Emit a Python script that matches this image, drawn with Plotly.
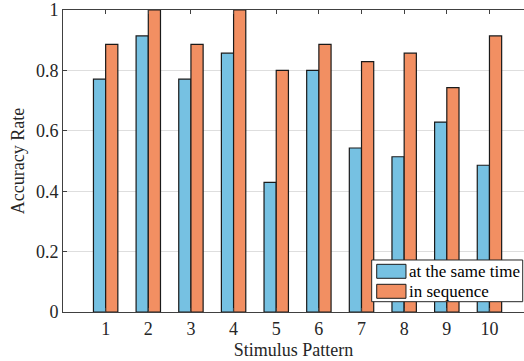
import plotly.graph_objects as go

patterns = [1, 2, 3, 4, 5, 6, 7, 8, 9, 10]
same_time = [0.771, 0.914, 0.771, 0.857, 0.429, 0.800, 0.543, 0.514, 0.629, 0.486]
in_sequence = [0.886, 1.000, 0.886, 1.000, 0.800, 0.886, 0.829, 0.857, 0.743, 0.914]
series_names = ["at the same time", "in sequence"]
series_colors = ["#76C1E2", "#F28F62"]
y_ticks = [0, 0.2, 0.4, 0.6, 0.8, 1]
y_tick_text = ["0", "0.2", "0.4", "0.6", "0.8", "1"]

FONT = "Liberation Serif, Times New Roman, serif"
EDGE = "#1a1a1a"

fig = go.Figure()
for name, vals, col in zip(series_names, [same_time, in_sequence], series_colors):
    fig.add_trace(go.Bar(x=patterns, y=vals, name=name, showlegend=False,
                         marker=dict(color=col, line=dict(color=EDGE, width=1.2))))

# legend box drawn in paper coordinates (MATLAB-style wide patches)
shapes = [dict(type="rect", xref="paper", yref="paper", x0=0.6696, x1=0.9972,
               y0=0.0341, y1=0.1722, fillcolor="white",
               line=dict(color="#262626", width=1), layer="above")]
annotations = []
entry_rows = [(0.1116, 0.1579, 0.1348), (0.0454, 0.0917, 0.0685)]
for (y0, y1, yc), name, col in zip(entry_rows, series_names, series_colors):
    shapes.append(dict(type="rect", xref="paper", yref="paper", x0=0.6805, x1=0.7440,
                       y0=y0, y1=y1, fillcolor=col,
                       line=dict(color=EDGE, width=1), layer="above"))
    annotations.append(dict(xref="paper", yref="paper", x=0.7470, y=yc, text=name,
                            showarrow=False, xanchor="left", yanchor="middle",
                            font=dict(family=FONT, size=17, color="#000000")))

fig.update_layout(
    width=524, height=361,
    margin=dict(l=63, r=0, t=10, b=49),
    paper_bgcolor="white", plot_bgcolor="white",
    barmode="group", bargap=0.428, bargroupgap=0,
    font=dict(family=FONT, size=18, color="#262626"),
    shapes=shapes, annotations=annotations,
    showlegend=False,
)
fig.update_xaxes(
    range=[0, 10.81], tickmode="array", tickvals=patterns,
    ticktext=[str(p) for p in patterns],
    showline=True, linecolor="#404040", linewidth=1, mirror="ticks",
    ticks="inside", ticklen=4, tickcolor="#404040", showgrid=False, zeroline=False,
    title=dict(text="Stimulus Pattern", standoff=5, font=dict(family=FONT, size=18)),
    tickfont=dict(family=FONT, size=18),
)
fig.update_yaxes(
    range=[0, 1], tickmode="array", tickvals=y_ticks, ticktext=y_tick_text,
    showline=True, linecolor="#404040", linewidth=1, mirror=False,
    ticks="inside", ticklen=4, tickcolor="#404040",
    showgrid=True, gridcolor="#DEDEDE", gridwidth=1, zeroline=False,
    title=dict(text="Accuracy Rate", standoff=6, font=dict(family=FONT, size=18)),
    tickfont=dict(family=FONT, size=18),
)

fig.write_html("out.html")
